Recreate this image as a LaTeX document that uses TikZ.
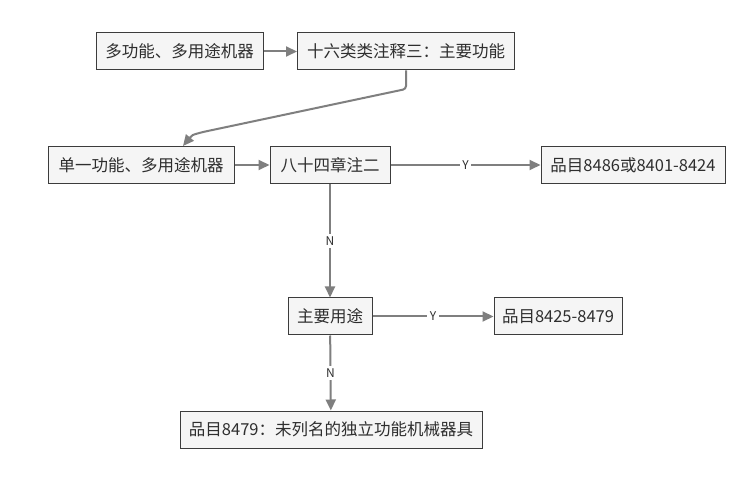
\documentclass[tikz,border=0pt]{standalone}
\usepackage{fontspec}
\setmainfont{Noto Sans CJK SC}
\usetikzlibrary{arrows.meta}
\definecolor{boxfill}{HTML}{F5F5F5}
\definecolor{boxline}{HTML}{3C3C3C}
\definecolor{flowline}{HTML}{7F7F7F}
\definecolor{inktext}{HTML}{2E2E2E}
\tikzset{
    x=1pt, y=-1pt,
    stepbox/.style={
        draw=boxline,
        fill=boxfill,
        line width=1pt,
        minimum height=37pt,
        inner xsep=5pt,
        text=inktext,
        font=\fontsize{16.5}{19}\selectfont
    },
    flow/.style={
        draw=flowline,
        line width=2pt,
        -{Triangle[length=11pt,width=10pt]}
    },
    answer/.style={
        fill=white,
        text=inktext,
        inner sep=2.5pt,
        font=\fontsize{12}{13}\selectfont
    }
}

\begin{document}
\begin{tikzpicture}
    \useasboundingbox[fill=white] (0,0) rectangle (750,478);

    \node[stepbox, minimum width=167pt] (multi) at (179.5,51.5) {多功能、多用途机器};
    \node[stepbox, minimum width=217pt] (note) at (406,51.5) {十六类类注释三：主要功能};
    \node[stepbox, minimum width=186pt] (single) at (141,165) {单一功能、多用途机器};
    \node[stepbox, minimum width=120pt] (ch84) at (330,165) {八十四章注二};
    \node[stepbox, minimum width=184pt] (h8486) at (633,165) {品目8486或8401-8424};
    \node[stepbox, minimum width=84pt] (use) at (330,316.5) {主要用途};
    \node[stepbox, minimum width=128pt] (h8425) at (558,316.5) {品目8425-8479};
    \node[stepbox, minimum width=302pt] (h8479) at (331,429.5) {品目8479：未列名的独立功能机械器具};

    \coordinate (bend) at (406,89);
    \coordinate (knee) at (203,132);

    \draw[flow, rounded corners=3pt] (note.south) -- (bend) -- (knee) .. controls (192,135) .. ([xshift=42pt]single.north);
    \draw[flow] (multi) -- (note);
    \draw[flow] (single) -- (ch84);
    \draw[flow] (ch84) -- node[answer] {Y} (h8486);
    \draw[flow] (ch84) -- node[answer] {N} (use);
    \draw[flow] (use) -- node[answer] {Y} (h8425);
    \draw[flow] (use) -- node[answer] {N} (h8479);
\end{tikzpicture}
\end{document}
